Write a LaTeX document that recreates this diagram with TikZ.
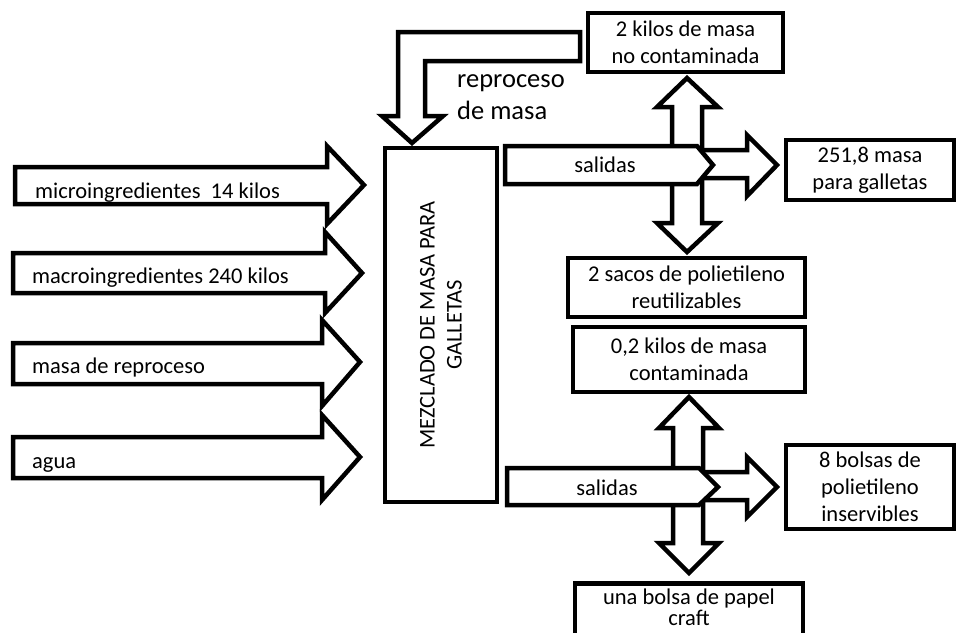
\documentclass[tikz,border=0pt]{standalone}
\usepackage{fontspec}
\setmainfont{Carlito}
\begin{document}
\begin{tikzpicture}[x=1pt,y=-1pt,
  outline/.style={draw=black,line width=4.5pt,fill=white,line join=miter},
  txt/.style={font=\fontsize{22.5}{27}\selectfont,inner sep=0pt},
  txtbox/.style={outline,txt,align=center}]
\useasboundingbox (0,0) rectangle (956,632);
\clip (0,0) rectangle (956,632);

% ---- incoming block arrows ----
\draw[outline] (15,167) -- (327,167) -- (327,146) -- (364,185) -- (327,224) -- (327,204) -- (15,204) -- cycle;
\draw[outline] (13,253) -- (325,253) -- (325,232) -- (362,273) -- (325,313) -- (325,293) -- (13,293) -- cycle;
\draw[outline] (13,343) -- (322,343) -- (322,320) -- (360,362) -- (322,406) -- (322,384) -- (13,384) -- cycle;
\draw[outline] (13,437) -- (322,437) -- (322,415) -- (360,457) -- (322,500) -- (322,478) -- (13,478) -- cycle;
\node[txt,anchor=base west] (in1) at (35,198) {microingredientes\ \ 14 kilos};
\node[txt,anchor=base west] (in2) at (32,283) {macroingredientes 240 kilos};
\node[txt,anchor=base west] (in3) at (32,373) {masa de reproceso};
\node[txt,anchor=base west] (in4) at (32,468) {agua};

% ---- mixing step ----
\node[txtbox,rotate=90,minimum width=354,minimum height=112] (mix) at (441,325)
  {MEZCLADO DE MASA PARA\\GALLETAS};

% ---- rework loop arrow ----
\draw[outline] (398,116) -- (398,32) -- (580,32) -- (580,61) -- (425,61) -- (425,116)
  -- (443,116) -- (412,143) -- (382,116) -- cycle;
\node[txt,font=\fontsize{26.5}{32}\selectfont,anchor=base west] (rep) at (457,87) {reproceso};
\node[txt,font=\fontsize{26.5}{32}\selectfont,anchor=base west] (rep2) at (457,119) {de masa};

% ---- output boxes ----
\node[txtbox,minimum width=195,minimum height=59] (nocont) at (685.5,42.5) {2 kilos de masa\\no contaminada};
\node[txtbox,minimum width=168,minimum height=60] (galletas) at (870,170) {251,8 masa\\para galletas};
\node[txtbox,minimum width=237,minimum height=59] (sacos) at (686.5,287.5) {2 sacos de polietileno\\reutilizables};
\node[txtbox,minimum width=232,minimum height=65] (cont) at (689,359.5) {0,2 kilos de masa\\contaminada};
\node[txtbox,minimum width=168,minimum height=84] (bolsas) at (870,487) {8 bolsas de\\polietileno\\inservibles};
% this box runs past the lower edge of the page
\node[txtbox,minimum width=228,anchor=north,inner ysep=6pt,text depth=30pt] (craft) at (689,581) {una bolsa de papel\\[-6pt]craft};

% ---- upper output cross ----
\draw[outline] (687,78) -- (718,107) -- (702,107) -- (702,223) -- (718,223) -- (687,252)
  -- (657,223) -- (672,223) -- (672,107) -- (657,107) -- cycle;
\draw[outline] (690,150) -- (747,150) -- (747,135) -- (777,165) -- (747,196) -- (747,178) -- (690,178) -- cycle;
\draw[outline] (505,146) -- (697,146) -- (713,165) -- (697,184) -- (505,184) -- cycle;
\node[txt] (sal1) at (605,165) {salidas};

% ---- lower output cross ----
\draw[outline] (689,397) -- (719,428) -- (703,428) -- (703,543) -- (719,543) -- (689,573)
  -- (659,543) -- (673,543) -- (673,428) -- (659,428) -- cycle;
\draw[outline] (692,472) -- (747,472) -- (747,457) -- (777,487) -- (747,517) -- (747,500) -- (692,500) -- cycle;
\draw[outline] (507,468) -- (699,468) -- (718,487) -- (699,505) -- (507,505) -- cycle;
\node[txt] (sal2) at (607,488) {salidas};
\end{tikzpicture}
\end{document}
